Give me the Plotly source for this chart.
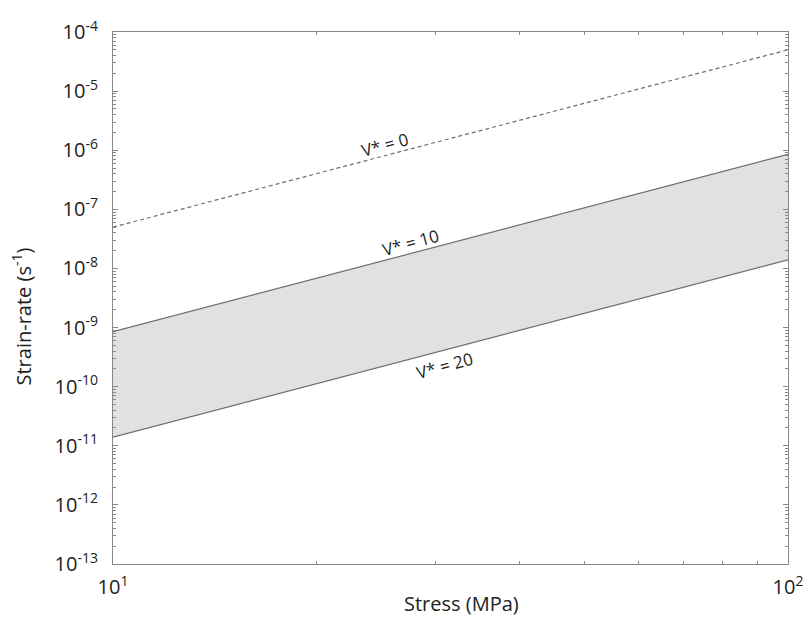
import math
import plotly.graph_objects as go

stress = [10, 100]
rate_v0 = [5.0e-8, 5.0e-5]
rate_v10 = [8.5e-10, 8.5e-7]
rate_v20 = [1.4e-11, 1.4e-8]

label_text = ["V* = 0", "V* = 10", "V* = 20"]
label_x = [25.3, 27.6, 31.0]
label_y = [1.23e-6, 2.7e-8, 2.24e-10]

y_exps = list(range(-13, -3))
x_exps = [1, 2]

line_col = "#6e6e6e"
fig = go.Figure()
fig.add_trace(go.Scatter(x=stress, y=rate_v20, mode="lines",
                         line=dict(color=line_col, width=1.2), showlegend=False))
fig.add_trace(go.Scatter(x=stress, y=rate_v10, mode="lines", fill="tonexty",
                         fillcolor="#e1e1e1",
                         line=dict(color=line_col, width=1.2), showlegend=False))
fig.add_trace(go.Scatter(x=stress, y=rate_v0, mode="lines",
                         line=dict(color=line_col, width=1.2, dash="4px,3px"), showlegend=False))

for t, x, y in zip(label_text, label_x, label_y):
    fig.add_annotation(x=math.log10(x), y=math.log10(y), xref="x", yref="y", text=t,
                       showarrow=False, textangle=-15,
                       font=dict(family="Open Sans", size=17, color="#222"))

tfont = dict(family="Open Sans", size=20, color="#222")
tickfont = dict(family="Open Sans", size=20, color="#222")
y_minor = [m * 10.0 ** e for e in range(-13, -4) for m in range(2, 10)]
x_minor = [m * 10 for m in range(2, 10)]

# axis titles as paper annotations
fig.add_annotation(xref="paper", yref="paper", x=0.517, y=-0.075, yanchor="middle",
                   text="Stress (MPa)", showarrow=False, font=tfont)
fig.add_annotation(xref="paper", yref="paper", x=-0.135, y=0.465, xanchor="center",
                   yanchor="middle",
                   text="Strain-rate (s<sup>-1</sup>)", showarrow=False, textangle=-90,
                   font=tfont)

fig.update_layout(
    width=803, height=619,
    margin=dict(l=113, r=15, t=32, b=55),
    plot_bgcolor="white", paper_bgcolor="white",
    xaxis=dict(type="log", range=[1, 2], showgrid=False, zeroline=False, automargin=False,
               showline=True, linecolor="#888", linewidth=1.2, mirror="allticks",
               ticks="inside", ticklen=5, tickcolor="#888", ticklabelstandoff=5,
               ticklabeloverflow="allow",
               tickvals=[10.0 ** e for e in x_exps],
               ticktext=[f"10<sup>{e}</sup>" for e in x_exps],
               tickfont=tickfont,
               minor=dict(tickvals=x_minor, ticks="inside", ticklen=3, tickcolor="#888")),
    yaxis=dict(type="log", range=[-13, -4], showgrid=False, zeroline=False, automargin=False,
               showline=True, linecolor="#888", linewidth=1.2, mirror="allticks",
               ticks="inside", ticklen=5, tickcolor="#888", ticklabelstandoff=10,
               ticklabeloverflow="allow",
               tickvals=[10.0 ** e for e in y_exps],
               ticktext=[f"10<sup>{e}</sup>" for e in y_exps],
               tickfont=tickfont,
               minor=dict(tickvals=y_minor, ticks="inside", ticklen=3, tickcolor="#888")),
)

fig.write_html("out.html")
